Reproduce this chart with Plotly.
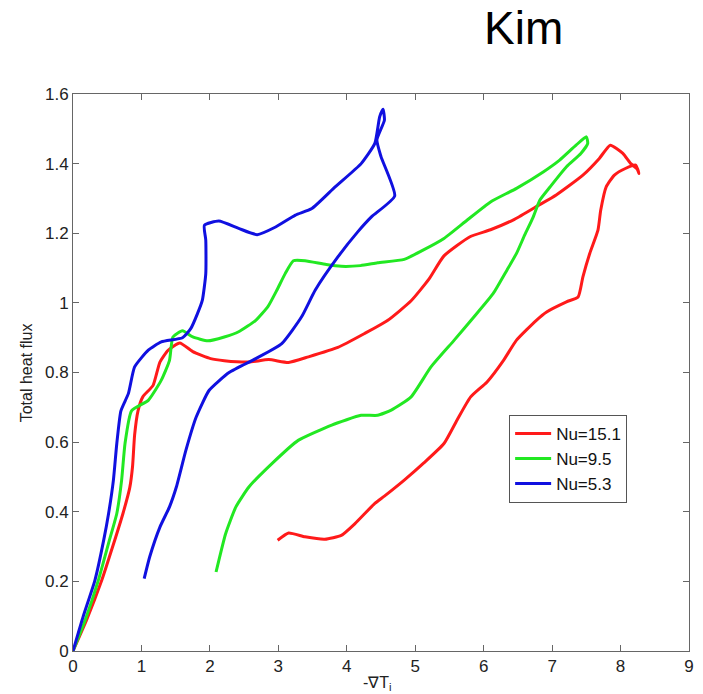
import plotly.graph_objects as go

# Nu = 15.1 (red)
red_x = [0.0, 0.2, 0.42, 0.58, 0.73, 0.83, 0.87, 0.90, 0.95, 1.02, 1.17, 1.27, 1.39, 1.56, 1.75, 2.01, 2.21,
         2.57, 2.86, 3.15, 3.44, 3.87, 4.26, 4.60, 4.94, 5.20, 5.42, 5.80, 6.10, 6.45, 6.80, 7.06, 7.45,
         7.69, 7.85, 8.03, 8.15, 8.24, 8.27, 8.22, 8.07, 7.91, 7.79, 7.71, 7.67, 7.55, 7.45, 7.38, 7.21,
         6.92, 6.77, 6.48, 6.29, 6.05, 5.81, 5.61, 5.42, 5.13, 4.84, 4.55, 4.41, 4.12, 3.92, 3.68, 3.39,
         3.15, 2.99]
red_y = [0.0, 0.09, 0.203, 0.30, 0.395, 0.47, 0.53, 0.62, 0.69, 0.73, 0.763, 0.83, 0.864, 0.885, 0.86, 0.84, 0.834,
         0.83, 0.837, 0.829, 0.845, 0.872, 0.912, 0.95, 1.006, 1.068, 1.135, 1.19, 1.21, 1.24, 1.28, 1.31, 1.367,
         1.415, 1.453, 1.43, 1.40, 1.385, 1.372, 1.396, 1.386, 1.367, 1.333, 1.266, 1.209, 1.142, 1.075, 1.017, 1.003,
         0.974, 0.95, 0.893, 0.835, 0.773, 0.73, 0.663, 0.596, 0.541, 0.491, 0.445, 0.424, 0.366, 0.332, 0.321, 0.328,
         0.339, 0.318]

# Nu = 9.5 (green)
green_x = [0.0, 0.18, 0.37, 0.52, 0.64, 0.71, 0.76, 0.855, 1.10, 1.29, 1.41, 1.46, 1.60, 1.75, 1.97, 2.21,
           2.42, 2.67, 2.85, 2.98, 3.10, 3.22, 3.39, 3.70, 3.92, 4.20, 4.45, 4.84, 5.10, 5.42, 5.76, 6.10,
           6.48, 6.87, 7.11, 7.35, 7.50, 7.52, 7.42, 7.21, 6.97, 6.82, 6.72, 6.60, 6.48, 6.34, 6.14, 5.86,
           5.57, 5.23, 4.94, 4.65, 4.45, 4.21, 3.78, 3.29, 2.91, 2.57, 2.38, 2.23, 2.09]
green_y = [0.0, 0.09, 0.203, 0.31, 0.395, 0.49, 0.596, 0.69, 0.72, 0.778, 0.835, 0.902, 0.92, 0.902, 0.891, 0.902,
           0.917, 0.95, 0.99, 1.037, 1.084, 1.121, 1.121, 1.11, 1.105, 1.107, 1.115, 1.125, 1.15, 1.185, 1.238, 1.29,
           1.329, 1.376, 1.41, 1.453, 1.477, 1.458, 1.429, 1.391, 1.333, 1.295, 1.245, 1.195, 1.142, 1.094, 1.027, 0.96,
           0.893, 0.816, 0.73, 0.692, 0.677, 0.677, 0.649, 0.605, 0.539, 0.471, 0.414, 0.337, 0.227]

# Nu = 5.3 (blue)
blue_x = [0.0, 0.15, 0.32, 0.45, 0.52, 0.59, 0.64, 0.70, 0.81, 0.90, 1.10, 1.29, 1.60, 1.72, 1.82, 1.89,
          1.94, 1.94, 1.92, 2.13, 2.42, 2.69, 2.96, 3.25, 3.49, 3.83, 4.21, 4.41, 4.48, 4.53, 4.55, 4.44,
          4.50, 4.70, 4.36, 4.16, 3.87, 3.54, 3.34, 3.05, 2.67, 2.28, 1.99, 1.80, 1.65, 1.51, 1.41, 1.27,
          1.12, 1.04]
blue_y = [0.0, 0.10, 0.203, 0.32, 0.395, 0.49, 0.596, 0.69, 0.74, 0.816, 0.864, 0.888, 0.90, 0.926, 0.97, 1.008,
          1.084, 1.18, 1.223, 1.235, 1.214, 1.196, 1.218, 1.252, 1.271, 1.333, 1.40, 1.458, 1.534, 1.556, 1.525, 1.468,
          1.42, 1.307, 1.247, 1.204, 1.132, 1.037, 0.96, 0.883, 0.84, 0.80, 0.749, 0.672, 0.577, 0.471, 0.414, 0.356,
          0.27, 0.208]

series_names = ["Nu=15.1", "Nu=9.5", "Nu=5.3"]
series_colors = ["#ff1a1a", "#22e822", "#1010e0"]

x_ticks = [0, 1, 2, 3, 4, 5, 6, 7, 8, 9]
y_ticks = [0, 0.2, 0.4, 0.6, 0.8, 1.0, 1.2, 1.4, 1.6]
y_tick_text = ["0", "0.2", "0.4", "0.6", "0.8", "1", "1.2", "1.4", "1.6"]

FONT = "Liberation Sans, Arial, sans-serif"

fig = go.Figure()
for xs, ys, name, col in zip([red_x, green_x, blue_x], [red_y, green_y, blue_y], series_names, series_colors):
    fig.add_trace(go.Scatter(x=xs, y=ys, mode="lines", name=name,
                             line=dict(color=col, width=3, shape="spline", smoothing=0.5)))

axis_common = dict(showgrid=False, zeroline=False, showline=True, linecolor="#666666", linewidth=1,
                   mirror="ticks", ticks="inside", ticklen=6, tickcolor="#666666",
                   tickfont=dict(family=FONT, size=17, color="#222222"))

fig.update_layout(
    width=703, height=694,
    margin=dict(l=73, r=9, t=94, b=43),
    paper_bgcolor="white", plot_bgcolor="white",
    xaxis=dict(range=[0, 9], tickvals=x_ticks, **axis_common),
    yaxis=dict(range=[0, 1.6], tickvals=y_ticks, ticktext=y_tick_text, **axis_common),
    legend=dict(x=0.708, y=0.424, xanchor="left", yanchor="top", bgcolor="white",
                bordercolor="#555555", borderwidth=1,
                font=dict(family=FONT, size=17, color="#111111"),
                tracegroupgap=0, itemwidth=36),
    showlegend=True,
    annotations=[
        dict(text="Kim", xref="paper", yref="paper", x=0.731, y=1.118, xanchor="center", yanchor="middle",
             showarrow=False, font=dict(family=FONT, size=46, color="black")),
        dict(text="Total heat flux", xref="paper", yref="paper", x=-0.075, y=0.50, textangle=-90,
             xanchor="center", yanchor="middle", showarrow=False,
             font=dict(family=FONT, size=16, color="#222222")),
        dict(text="-\u2207T<sub>i</sub>", xref="paper", yref="paper", x=0.494, y=-0.058,
             xanchor="center", yanchor="middle", showarrow=False,
             font=dict(family=FONT, size=16, color="#222222")),
    ],
)

fig.write_html("out.html")
